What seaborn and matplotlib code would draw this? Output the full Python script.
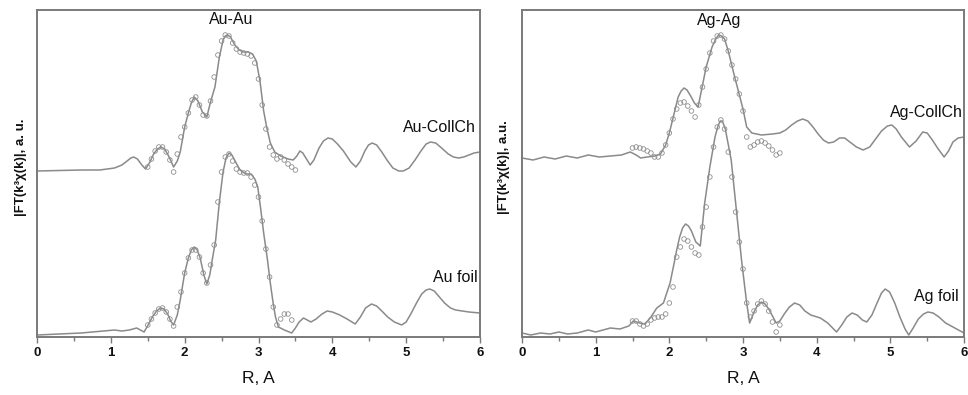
import matplotlib
matplotlib.use("Agg")
import matplotlib.pyplot as plt
import seaborn as sns
import pandas as pd
from matplotlib.ticker import MultipleLocator

# ---------------- data (arbitrary units) ----------------
au_coll_R = [0.0, 0.3, 0.6, 0.85, 1.05, 1.15, 1.22, 1.27, 1.31, 1.36, 1.42, 1.47, 1.53, 1.58, 1.63,
             1.68, 1.73, 1.79, 1.85, 1.90, 1.94, 2.00, 2.05, 2.09, 2.13, 2.18, 2.24, 2.30, 2.35,
             2.41, 2.47, 2.52, 2.55, 2.58, 2.62, 2.68, 2.74, 2.80, 2.86, 2.92, 2.97, 3.02, 3.07,
             3.11, 3.16, 3.22, 3.30, 3.40, 3.47, 3.52, 3.56, 3.60, 3.65, 3.70, 3.75, 3.82, 3.88,
             3.94, 4.00, 4.07, 4.15, 4.25, 4.32, 4.38, 4.44, 4.49, 4.54, 4.60, 4.67, 4.74, 4.82,
             4.90, 4.96, 5.04, 5.12, 5.20, 5.27, 5.33, 5.40, 5.48, 5.57, 5.64, 5.71, 5.78, 5.85,
             5.92, 6.0]
au_coll_y = [166, 166.5, 167, 167, 169, 172, 176, 179, 180, 178, 172, 168, 175, 183, 188,
             190, 188, 180, 170, 176, 185, 210, 224, 234, 240, 236, 225, 220, 235,
             250, 280, 297, 301, 302, 300, 292, 287, 285, 285, 283, 276, 256, 226,
             210, 194, 185, 181, 178, 177, 181, 186, 184, 178, 172, 177, 189, 196,
             199, 198, 193, 186, 175, 170, 176, 186, 192, 194, 192, 185, 177, 169,
             166, 166, 169, 177, 186, 193, 195, 194, 189, 183, 180, 179, 180, 182,
             184, 185]

au_foil_R = [0.0, 0.3, 0.6, 0.9, 1.05, 1.15, 1.25, 1.35, 1.45, 1.52, 1.57, 1.62, 1.67, 1.72, 1.77,
             1.81, 1.85, 1.90, 1.94, 2.00, 2.05, 2.09, 2.13, 2.17, 2.21, 2.26, 2.30, 2.34, 2.38,
             2.42, 2.47, 2.52, 2.56, 2.60, 2.64, 2.69, 2.75, 2.83, 2.90, 2.95, 2.99, 3.03, 3.07,
             3.12, 3.16, 3.20, 3.23, 3.27, 3.35, 3.45, 3.50, 3.55, 3.61, 3.66, 3.71, 3.78, 3.86,
             3.93, 4.00, 4.10, 4.20, 4.31, 4.38, 4.45, 4.53, 4.60, 4.67, 4.75, 4.84, 4.94, 5.00,
             5.07, 5.14, 5.21, 5.27, 5.32, 5.38, 5.45, 5.52, 5.60, 5.67, 5.76, 5.85, 6.0]
au_foil_y = [2, 3, 4, 6, 7, 6, 7, 9, 5, 14, 21, 26, 29, 28, 23,
             16, 12, 22, 37, 64, 79, 87, 90, 87, 79, 62, 53, 62, 80,
             97, 135, 165, 179, 184, 182, 175, 167, 163, 163, 158, 150, 128, 104,
             78, 54, 33, 20, 10, 7, 4, 9, 15, 19, 17, 15, 18, 23,
             26, 25, 22, 18, 13, 20, 29, 33, 31, 26, 20, 15, 12, 15,
             24, 34, 43, 47, 48, 46, 40, 34, 29, 27, 26, 25, 24]

au_coll_fit_R = [1.50, 1.55, 1.60, 1.65, 1.70, 1.75, 1.80, 1.85, 1.90, 1.95, 2.00, 2.05, 2.10,
                 2.15, 2.20, 2.25, 2.30, 2.35, 2.40, 2.45, 2.50, 2.55, 2.60, 2.65, 2.70, 2.75,
                 2.80, 2.85, 2.90, 2.95, 3.00, 3.05, 3.10, 3.15, 3.20, 3.25, 3.30, 3.35, 3.40,
                 3.45, 3.50]
au_coll_fit_y = [170, 178, 186, 190, 190, 185, 177, 165, 183, 200, 210, 224, 237,
                 240, 232, 222, 221, 236, 260, 282, 296, 302, 301, 294, 288, 285,
                 284, 283, 281, 274, 258, 232, 208, 190, 182, 178, 180, 177, 173,
                 170, 167]

au_foil_fit_R = [1.50, 1.55, 1.60, 1.65, 1.70, 1.75, 1.80, 1.85, 1.90, 1.95, 2.00, 2.05, 2.10,
                 2.15, 2.20, 2.25, 2.30, 2.35, 2.40, 2.45, 2.50, 2.55, 2.60, 2.65, 2.70, 2.75,
                 2.80, 2.85, 2.90, 2.95, 3.00, 3.05, 3.10, 3.15, 3.20, 3.25, 3.30, 3.35, 3.40,
                 3.45]
au_foil_fit_y = [12, 18, 24, 28, 29, 25, 18, 11, 30, 45, 64, 79, 87,
                 87, 80, 64, 54, 72, 92, 135, 165, 180, 183, 176, 168, 165,
                 164, 164, 160, 152, 140, 116, 88, 60, 30, 12, 18, 23, 23,
                 17]

ag_coll_R = [0.0, 0.15, 0.30, 0.45, 0.60, 0.75, 0.90, 1.05, 1.20, 1.35, 1.47, 1.55, 1.61, 1.70,
             1.80, 1.88, 1.95, 2.00, 2.06, 2.12, 2.16, 2.20, 2.24, 2.29, 2.34, 2.39, 2.44, 2.50,
             2.58, 2.63, 2.67, 2.71, 2.75, 2.80, 2.87, 2.94, 3.00, 3.05, 3.12, 3.25, 3.40, 3.50,
             3.58, 3.66, 3.74, 3.81, 3.88, 3.95, 4.02, 4.09, 4.16, 4.23, 4.31, 4.38, 4.45, 4.54,
             4.63, 4.72, 4.80, 4.88, 4.96, 5.02, 5.08, 5.15, 5.26, 5.35, 5.44, 5.50, 5.57, 5.65,
             5.73, 5.79, 5.85, 5.92, 6.0]
ag_coll_y = [179, 177, 180, 178, 181, 179, 182, 180, 181, 182, 185, 182, 179, 180,
             181, 183, 192, 204, 222, 240, 246, 249, 247, 241, 234, 230, 248, 270,
             290, 298, 302, 301, 298, 286, 265, 245, 228, 210, 204, 202, 203, 204,
             207, 212, 216, 218, 216, 210, 203, 197, 194, 195, 199, 199, 195, 190,
             187, 190, 198, 206, 211, 212, 208, 200, 190, 196, 205, 204, 197, 188,
             180, 186, 195, 199, 200]

ag_foil_R = [0.0, 0.12, 0.25, 0.38, 0.50, 0.62, 0.75, 0.90, 1.0, 1.2, 1.33, 1.45, 1.51, 1.60,
             1.67, 1.75, 1.83, 1.92, 2.01, 2.06, 2.10, 2.14, 2.18, 2.22, 2.26, 2.30, 2.36, 2.42,
             2.48, 2.55, 2.62, 2.66, 2.69, 2.72, 2.76, 2.84, 2.91, 2.98, 3.05, 3.09, 3.15, 3.20,
             3.25, 3.30, 3.35, 3.45, 3.50, 3.56, 3.63, 3.70, 3.77, 3.84, 3.92, 4.05, 4.15, 4.27,
             4.34, 4.41, 4.48, 4.55, 4.62, 4.68, 4.75, 4.82, 4.88, 4.93, 4.99, 5.06, 5.13, 5.20,
             5.25, 5.31, 5.38, 5.45, 5.51, 5.58, 5.66, 5.75, 5.85, 6.0]
ag_foil_y = [4, 2, 4, 3, 5, 3, 4, 7, 5, 9, 8, 11, 16, 14,
             13, 20, 29, 34, 54, 72, 87, 100, 109, 113, 111, 106, 95, 91,
             134, 170, 200, 211, 216, 216, 208, 177, 127, 77, 34, 14, 25, 32,
             35, 33, 28, 14, 16, 23, 30, 34, 32, 26, 22, 19, 14, 5,
             12, 20, 24, 22, 17, 15, 22, 34, 44, 48, 45, 34, 20, 8,
             2, 9, 18, 23, 25, 24, 20, 14, 10, 4]

ag_coll_fit_R = [1.50, 1.55, 1.60, 1.65, 1.70, 1.75, 1.80, 1.85, 1.90, 1.95, 2.00, 2.05, 2.10,
                 2.15, 2.20, 2.25, 2.30, 2.35, 2.40, 2.45, 2.50, 2.55, 2.60, 2.65, 2.70, 2.75,
                 2.80, 2.85, 2.90, 2.95, 3.00, 3.05, 3.10, 3.15, 3.20, 3.25, 3.30, 3.35, 3.40,
                 3.45, 3.50]
ag_coll_fit_y = [189, 190, 189, 188, 186, 184, 180, 180, 184, 192, 204, 218, 228,
                 234, 235, 231, 226, 220, 232, 250, 268, 284, 296, 301, 302, 298,
                 286, 272, 258, 243, 226, 200, 190, 192, 195, 196, 194, 191, 187,
                 182, 184]

ag_foil_fit_R = [1.50, 1.55, 1.60, 1.65, 1.70, 1.75, 1.80, 1.85, 1.90, 1.95, 2.00, 2.05, 2.10,
                 2.15, 2.20, 2.25, 2.30, 2.35, 2.40, 2.45, 2.50, 2.55, 2.60, 2.65, 2.70, 2.75,
                 2.80, 2.85, 2.90, 2.95, 3.00, 3.05, 3.10, 3.15, 3.20, 3.25, 3.30, 3.35, 3.40,
                 3.45, 3.50]
ag_foil_fit_y = [16, 16, 13, 11, 13, 17, 19, 20, 20, 23, 34, 50, 80,
                 90, 98, 96, 90, 84, 82, 110, 130, 160, 190, 210, 217, 208,
                 185, 160, 125, 95, 68, 34, 20, 26, 33, 36, 33, 26, 15,
                 5, 12]

x_ticks = [0, 1, 2, 3, 4, 5, 6]
x_label = "R, A"
left_ylabel = "|FT(k³χ(k)|, a. u."
right_ylabel = "|FT(k³χ(k)|, a.u."

# ---------------- style ----------------
sns.set_style("white")
plt.rcParams["font.family"] = ["Liberation Sans", "DejaVu Sans"]

LINE_C = "#8a8a8a"
DOT_C = "#8f8f8f"
SPINE_C = "#7a7a7a"
TEXT_C = "#111111"

fig = plt.figure(figsize=(9.68, 3.95), dpi=100)
ax1 = fig.add_axes([37 / 968, 1 - 337 / 395, 443 / 968, 327 / 395])
ax2 = fig.add_axes([522 / 968, 1 - 337 / 395, 442 / 968, 327 / 395])


def draw(ax, lines, fits):
    for R, y in lines:
        df = pd.DataFrame({"R": R, "y": y})
        sns.lineplot(data=df, x="R", y="y", ax=ax, color=LINE_C, lw=1.1,
                     sort=False, estimator=None)
    for R, y in fits:
        df = pd.DataFrame({"R": R, "y": y})
        sns.scatterplot(data=df, x="R", y="y", ax=ax, color=DOT_C, s=11,
                        marker="o", linewidth=0.6, zorder=3)
        coll = ax.collections[-1]
        coll.set_facecolor("none")
        coll.set_edgecolor(DOT_C)


draw(ax1, [(au_coll_R, au_coll_y), (au_foil_R, au_foil_y)],
     [(au_coll_fit_R, au_coll_fit_y), (au_foil_fit_R, au_foil_fit_y)])
draw(ax2, [(ag_coll_R, ag_coll_y), (ag_foil_R, ag_foil_y)],
     [(ag_coll_fit_R, ag_coll_fit_y), (ag_foil_fit_R, ag_foil_fit_y)])

for ax, ylab, xr in ((ax1, left_ylabel, -0.022), (ax2, right_ylabel, -0.027)):
    ax.set_xlim(0, 6)
    ax.set_ylim(0, 327)
    ax.set_xticks(x_ticks)
    ax.set_xticklabels([str(t) for t in x_ticks], fontsize=9.5, fontweight="bold",
                       color=TEXT_C)
    ax.xaxis.set_minor_locator(MultipleLocator(0.5))
    ax.set_yticks([])
    ax.tick_params(axis="x", which="major", direction="out", length=4, width=1,
                   color=SPINE_C, pad=3, bottom=True)
    ax.tick_params(axis="x", which="minor", direction="out", length=3, width=1,
                   color=SPINE_C, bottom=True)
    for sp in ax.spines.values():
        sp.set_visible(True)
        sp.set_color(SPINE_C)
        sp.set_linewidth(1.4)
    ax.set_xlabel(x_label, fontsize=12.5, labelpad=9, color=TEXT_C)
    ax.set_ylabel(ylab, fontsize=9.5, fontweight="bold", color=TEXT_C)
    ax.yaxis.set_label_coords(xr, 0.52)

kw = dict(fontsize=11.5, color=TEXT_C)
ax1.text(2.63, 317, "Au-Au", ha="center", va="center", **kw)
ax1.text(5.95, 210, "Au-CollCh", ha="right", va="center", **kw)
ax1.text(5.97, 60, "Au foil", ha="right", va="center", **kw)
ax2.text(2.67, 317, "Ag-Ag", ha="center", va="center", **kw)
ax2.text(5.99, 224, "Ag-CollCh", ha="right", va="center", **kw)
ax2.text(5.93, 40, "Ag foil", ha="right", va="center", **kw)

fig.savefig("out.png", dpi=100)
